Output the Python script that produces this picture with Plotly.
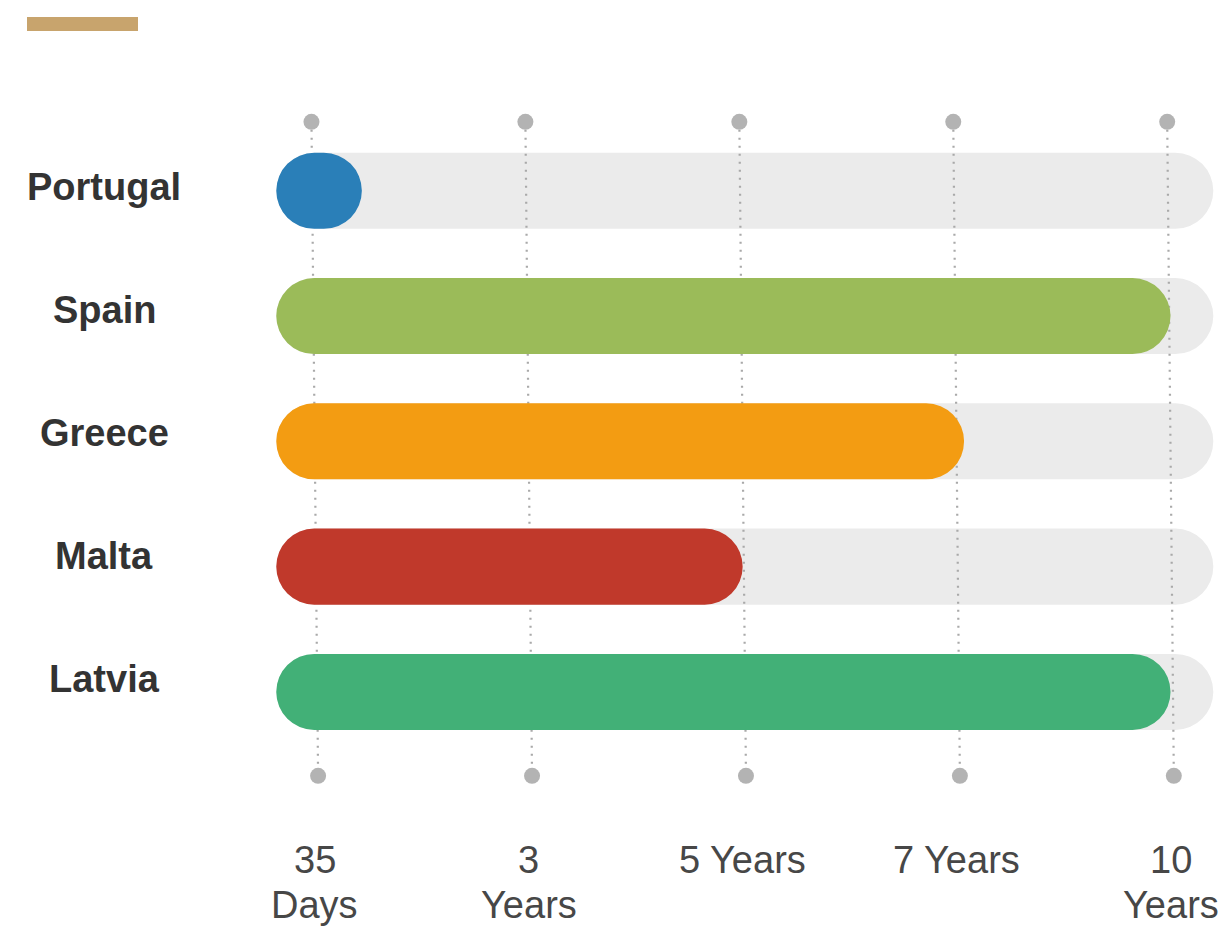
import plotly.graph_objects as go

# ---------------- data ----------------
COUNTRIES = ["Portugal", "Spain", "Greece", "Malta", "Latvia"]
# position of each bar's end on the ordinal duration scale (0 = 35 Days ... 4 = 10 Years)
BAR_END = [0.22, 4.0, 3.035, 2.0, 4.0]
BAR_COLORS = ["#2a7fb8", "#9bbb59", "#f39c12", "#c0392b", "#42b077"]
TICK_LABELS = ["35<br>Days", "3<br>Years", "5 Years", "7 Years", "10<br>Years"]

# ---------------- layout constants ----------------
PAGE_OFF = 8                       # browser body margin
W, H = 1230 - PAGE_OFF, 929 - PAGE_OFF
ML, MR, MT, MB = 264, 6, 70, 93
PW, PH = W - ML - MR, H - MT - MB
X_RANGE = [-0.2, 4.25]
Y_RANGE = [5.15, -0.9]
TRACK_START = -0.18
TRACK_END = 4.2
TRACK_COLOR = "#ebebeb"
BAR_THICK = 0.607
DOT_TOP, DOT_BOTTOM = -0.55, 4.67
SLANT = 0.0155
LABEL_DRIFT = 2.25                 # country labels are spaced slightly tighter than rows
FONT = "Liberation Sans, Arial, sans-serif"

rows = list(range(len(COUNTRIES)))
ticks = list(range(len(TICK_LABELS)))


def px_x(px):
    return (px - PAGE_OFF - ML) / PW


def px_y(py):
    return (MT + PH - (py - PAGE_OFF)) / PH


def rounded_bar(starts, ends, colors, xa, ya):
    return go.Bar(
        y=rows, base=starts,
        x=[e - s for s, e in zip(starts, ends)],
        orientation="h", width=BAR_THICK,
        marker=dict(color=colors, cornerradius="50%", line=dict(width=0)),
        xaxis=xa, yaxis=ya, hoverinfo="skip", showlegend=False,
    )


fig = go.Figure()

# background tracks
fig.add_trace(rounded_bar([TRACK_START] * len(rows), [TRACK_END] * len(rows),
                          [TRACK_COLOR] * len(rows), "x", "y"))

# dotted guide lines with end dots
for t in ticks:
    fig.add_trace(go.Scatter(
        x=[t - SLANT, t + SLANT], y=[DOT_TOP, DOT_BOTTOM], mode="lines",
        line=dict(color="#a9a9a9", width=2.2, dash="2px,6px"),
        hoverinfo="skip", showlegend=False, xaxis="x", yaxis="y",
    ))
fig.add_trace(go.Scatter(
    x=[t - SLANT for t in ticks] + [t + SLANT for t in ticks],
    y=[DOT_TOP] * len(ticks) + [DOT_BOTTOM] * len(ticks),
    mode="markers", marker=dict(size=16, color="#b3b3b3"),
    hoverinfo="skip", showlegend=False, xaxis="x", yaxis="y",
))

# coloured value bars (on overlay subplot so they sit above guide lines)
fig.add_trace(rounded_bar([TRACK_START] * len(rows), BAR_END, BAR_COLORS, "x2", "y2"))

annotations = []
# country labels
for r, c in zip(rows, COUNTRIES):
    annotations.append(dict(
        x=px_x(104), xref="paper", y=r, yref="y", text=c, showarrow=False,
        xanchor="center", yanchor="middle", yshift=3.5 + LABEL_DRIFT * r,
        font=dict(family=FONT, size=38, color="#333333", weight="bold"),
    ))
# tick labels
LINE_Y = [860, 905]
for t, lab in zip(ticks, TICK_LABELS):
    for i, line in enumerate(lab.split("<br>")):
        annotations.append(dict(
            x=t, xref="x", y=px_y(LINE_Y[i]), yref="paper", text=line,
            showarrow=False, xanchor="center", yanchor="middle",
            font=dict(family=FONT, size=38, color="#474747"),
        ))

axis_common = dict(showgrid=False, zeroline=False, showline=False,
                   showticklabels=False, ticks="", fixedrange=True)

fig.update_layout(
    width=W, height=H,
    margin=dict(l=ML, r=MR, t=MT, b=MB),
    paper_bgcolor="white", plot_bgcolor="white",
    barmode="overlay",
    xaxis=dict(range=X_RANGE, **axis_common),
    yaxis=dict(range=Y_RANGE, **axis_common),
    xaxis2=dict(range=X_RANGE, overlaying="x", anchor="y2", **axis_common),
    yaxis2=dict(range=Y_RANGE, overlaying="y", anchor="x2", **axis_common),
    annotations=annotations,
    shapes=[dict(type="rect", xref="paper", yref="paper",
                 x0=px_x(27), x1=px_x(138), y0=px_y(31), y1=px_y(17),
                 fillcolor="#c8a46d", line=dict(width=0))],
    showlegend=False,
    font=dict(family=FONT),
)

fig.write_html("out.html")
